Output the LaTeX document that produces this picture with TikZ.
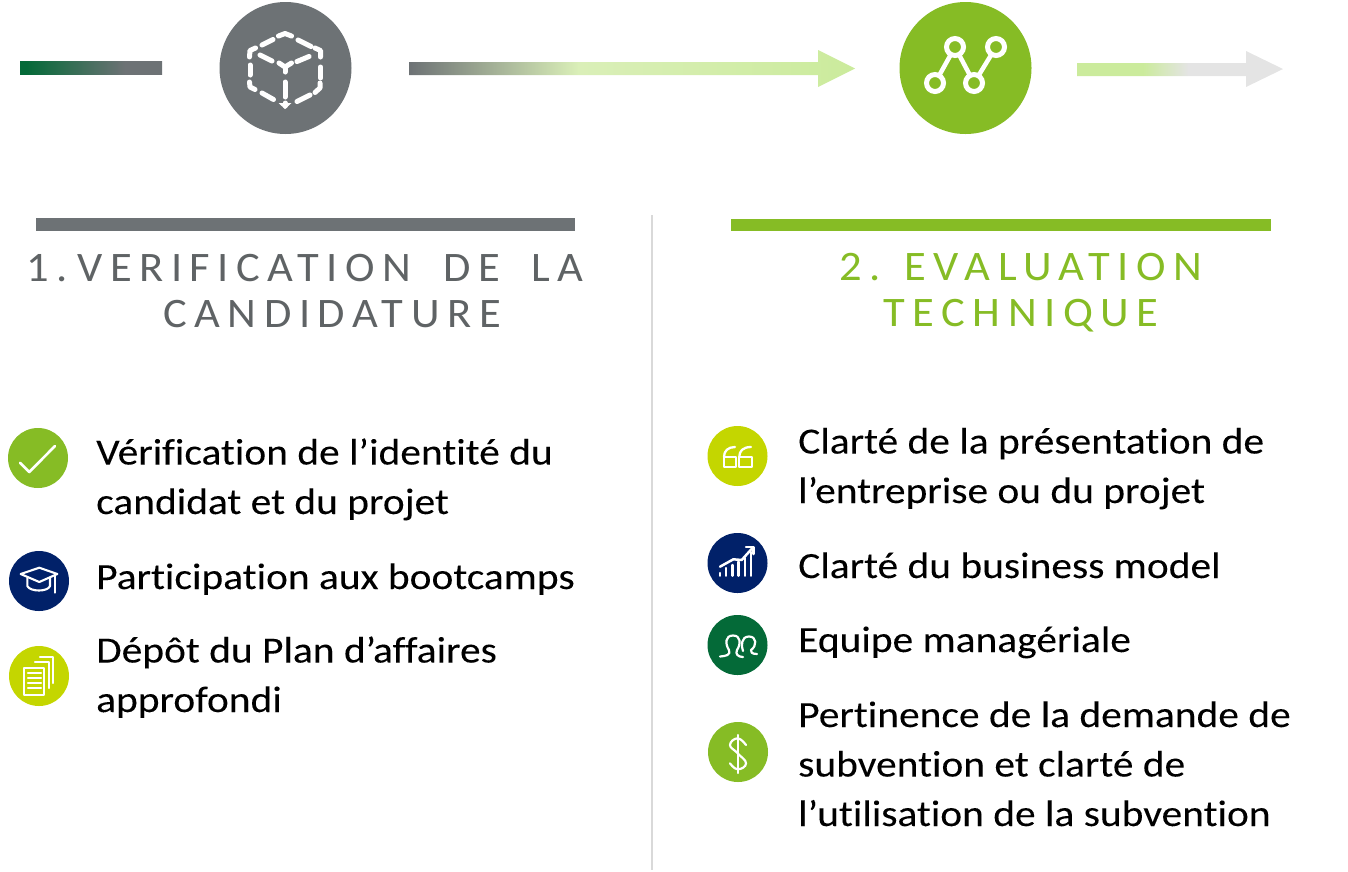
\documentclass[tikz,border=0pt]{standalone}
\usepackage{fontspec}
\setmainfont[Ligatures=CommonOff,FakeStretch=1.12,FakeBold=0.05]{Carlito}
\newfontfamily\headfont[Ligatures=CommonOff,FakeStretch=1.06,LetterSpace=18]{Carlito}
\usetikzlibrary{arrows.meta}
\definecolor{dgray}{HTML}{6D7275}
\definecolor{headgray}{HTML}{5F6365}
\definecolor{dgreen}{HTML}{86BC25}
\definecolor{dblue}{HTML}{012169}
\definecolor{forest}{HTML}{046A38}
\definecolor{lime}{HTML}{C4D600}
\definecolor{palegreen}{HTML}{DAEFB8}
\definecolor{midgreen}{HTML}{CBEB9C}
\definecolor{palegray}{HTML}{E4E4E4}
\pgfdeclarehorizontalshading{barA}{100bp}{color(0bp)=(forest); color(27bp)=(forest); color(62bp)=(dgray); color(100bp)=(dgray)}
\pgfdeclarehorizontalshading{arrA}{100bp}{color(0bp)=(dgray); color(25bp)=(dgray); color(44bp)=(palegreen); color(75bp)=(midgreen); color(100bp)=(midgreen)}
\pgfdeclarehorizontalshading{arrB}{100bp}{color(0bp)=(midgreen); color(41bp)=(midgreen); color(52bp)=(palegray); color(100bp)=(palegray)}
\tikzset{
  bigdisc/.style={circle,inner sep=0pt,minimum size=132pt},
  smalldisc/.style={circle,inner sep=0pt,minimum size=60pt},
  item/.style={anchor=base west,inner sep=0pt,align=left,font=\fontsize{37}{49.5}\selectfont,text=black},
  heading/.style={anchor=base,inner sep=0pt,align=center,font=\fontsize{42}{46}\selectfont\headfont},
  ico/.style={draw=white,line width=2pt,line cap=round,line join=round},
}
\begin{document}
\begin{tikzpicture}[x=1pt,y=-1pt]
\useasboundingbox (0,0) rectangle (1348,871);
% top band
\shade[shading=barA] (20,61) rectangle (162,74);
\shade[shading=arrA] (409,62) -- (818,62) -- (818,50) -- (855,68.5) -- (818,87) -- (818,75) -- (409,75) -- cycle;
\shade[shading=arrB] (1077,63) -- (1246,63) -- (1246,51) -- (1283,69) -- (1246,87) -- (1246,76) -- (1077,76) -- cycle;
\node[bigdisc,fill=dgray] (cube) at (285.5,68) {};
\node[bigdisc,fill=dgreen] (net) at (965.5,68) {};
% cube icon
\begin{scope}[ico,line width=5pt]
\draw (278.5,36) -- (285,33.5) -- (291.5,36);
\draw (262,45) -- (273,39.5);
\draw (298,40) -- (311,46.5);
\draw (249.5,57) -- (250,50.5) -- (255.5,48);
\draw (315,48) -- (320.5,50.5) -- (320.5,57);
\draw (250,65) -- (250,75);
\draw (320.5,67) -- (320.5,78);
\draw (249.5,82) -- (250,87) -- (255,89.5);
\draw (320,83) -- (320,88) -- (315,92.5);
\draw (262,93) -- (273.5,99.5);
\draw (310,95) -- (297,101.5);
\draw (260,55) -- (272,61);
\draw (297,61.5) -- (309,56.5);
\draw (279,63) -- (285,67) -- (291.5,63);
\draw (285,67) -- (285,72);
\draw (285,82) -- (285,97);
\draw (285,103) -- (285,106);
\end{scope}
\fill[white] (278.5,103) -- (291.5,103) -- (285,109) -- cycle;
% network icon
\begin{scope}[ico,line width=4.5pt]
\draw (935,83) -- (955,47) -- (974,83) -- (996,47);
\end{scope}
\foreach \p in {(935,83),(955,47),(974,83),(996,47)}
  \draw[white,line width=5pt,fill=dgreen] \p circle[radius=8.5];
% rules
\fill[dgray] (36,218) rectangle (575,231);
\fill[dgreen] (731,219) rectangle (1271,231);
\draw[color=black!15,line width=1.5pt] (652,215) -- (652,870);
% headings
\node[heading,text=headgray] (h1) at (305,327) {1.\kern-14pt{} VERIFICATION\kern14pt{} DE\kern14pt{} LA\\\hspace*{54pt}CANDIDATURE};
\node[heading,text=dgreen] (h2) at (1021,326) {2. EVALUATION\\TECHNIQUE};
% left items
\node[smalldisc,fill=dgreen] (i1) at (38,458) {};
\node[smalldisc,fill=dblue] (i2) at (39,581) {};
\node[smalldisc,fill=lime] (i3) at (39,676) {};
\node[item] (t1) at (96,514) {Vérification de l’identité du\\candidat et du projet};
\node[item] (t2) at (96,589) {Participation aux bootcamps};
\node[item] (t3) at (96,712) {Dépôt du Plan d’affaires\\approfondi};
% right items
\node[smalldisc,fill=lime] (j1) at (737.5,456) {};
\node[smalldisc,fill=dblue] (j2) at (737.5,563) {};
\node[smalldisc,fill=forest] (j3) at (737.5,645) {};
\node[smalldisc,fill=dgreen] (j4) at (738,752) {};
\node[item] (u1) at (798,503) {Clarté de la présentation de\\l’entreprise ou du projet};
\node[item] (u2) at (798,578) {Clarté du business model};
\node[item] (u3) at (798,652) {Equipe managériale};
\node[item] (u4) at (798,826) {Pertinence de la demande de\\subvention et clarté de\\l’utilisation de la subvention};
% check
\draw[ico,line width=2.6pt] (20,462.7) -- (29.3,472) -- (55,446);
% cap
\begin{scope}[ico,line width=2.1pt]
\draw (20.7,574) -- (39.3,567.7) -- (57.3,574) -- (39.3,582) -- cycle;
\draw (27.3,578) -- (27.3,586) .. controls (30,592) and (48,592) .. (50,586) -- (50,578);
\draw (55,576) -- (55,592.7);
\end{scope}
% documents
\begin{scope}[ico,line width=2.1pt]
\draw (24.3,668) rectangle (44.3,695);
\foreach \yy in {673,678,683,688} \draw (28,\yy) -- (41,\yy);
\draw (35,661.7) -- (49,661.7) -- (49,688);
\draw (40,657.3) -- (53.3,657.3) -- (53.3,683);
\end{scope}
% quotes
\begin{scope}[ico,line width=2.3pt]
\draw (724,456.7) rectangle (736,467);
\draw (724,456.7) .. controls (724,451) and (728,447) .. (735,447);
\draw (739.3,456.7) rectangle (751.7,467);
\draw (739.3,456.7) .. controls (739.3,451) and (743,447) .. (751,447);
\end{scope}
% chart
\begin{scope}[ico,line width=2.5pt]
\draw (720,575.7) -- (720,573);
\draw (726,575.7) -- (726,568);
\draw (732.3,575.7) -- (732.3,565);
\draw (738.7,575.7) -- (738.7,561.7);
\draw (745,575.7) -- (745,558);
\draw (751,575.7) -- (751,552);
\draw (720,566.7) -- (733.3,559.3) -- (741.7,560) -- (752.5,548);
\draw (746,547) -- (753.5,547) -- (753.5,554);
\end{scope}
% team
\begin{scope}[ico,line width=2.2pt]
\draw (720,656.5) .. controls (726,656) and (731,655) .. (729,650) .. controls (725,644) and (725,635.5) .. (733,635.5) .. controls (741,635.5) and (741,644) .. (737,650) .. controls (735,654) and (738,657) .. (743,657);
\draw (743,651) .. controls (741,646) and (741,636.5) .. (749,636.5) .. controls (757,636.5) and (757,646) .. (751,650) .. controls (750,652) and (752,654) .. (757,654);
\end{scope}
% dollar
\begin{scope}[ico,line width=2.2pt]
\draw plot[smooth,tension=0.8] coordinates {(746,745) (737.7,738.3) (730,745) (737.7,753.3) (746,763.3) (737.7,769.3) (730,763.3)};
\draw (737.7,735) -- (737.7,773);
\end{scope}
\end{tikzpicture}
\end{document}
